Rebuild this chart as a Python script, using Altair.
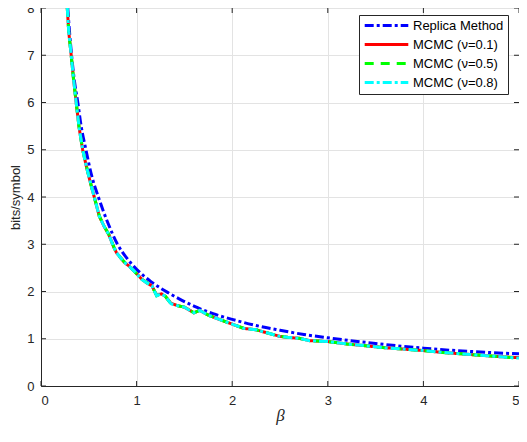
import altair as alt
import pandas as pd

# ---- data ----
series_names = ["Replica Method", "MCMC (ν=0.1)", "MCMC (ν=0.5)", "MCMC (ν=0.8)"]
series_colors = ["#0000ff", "#ff0000", "#00ff00", "#00ffff"]

beta_replica = [0.28, 0.30, 0.32, 0.35, 0.385, 0.42, 0.47, 0.53, 0.60, 0.70, 0.80, 0.90,
                1.00, 1.15, 1.30, 1.45, 1.60, 1.80, 2.00, 2.25, 2.50, 2.75, 3.00, 3.50,
                4.00, 4.50, 5.00]
bits_replica = [8.0, 7.45, 7.0, 6.45, 6.0, 5.5, 5.0, 4.45, 4.0, 3.45, 3.0, 2.7,
                2.47, 2.21, 2.01, 1.84, 1.69, 1.53, 1.41, 1.28, 1.18, 1.09, 1.02, 0.90,
                0.80, 0.73, 0.68]

beta_mcmc = [0.275, 0.29, 0.316, 0.34, 0.368, 0.40, 0.436, 0.48, 0.52, 0.557,
             0.61, 0.66, 0.71, 0.763, 0.79, 0.83, 0.87, 0.92, 0.98, 1.05,
             1.10, 1.16, 1.21, 1.26, 1.30, 1.36, 1.43, 1.50, 1.55, 1.60,
             1.66, 1.75, 1.85, 2.00, 2.12, 2.25, 2.39, 2.50, 2.58, 2.70,
             2.81, 3.00, 3.20, 3.40, 3.60, 3.80, 4.00, 4.20, 4.40, 4.60,
             4.80, 5.00]
bits_nu01 = [8.0, 7.5, 7.0, 6.5, 6.0, 5.45, 5.0, 4.6, 4.28, 4.0,
             3.59, 3.38, 3.2, 2.93, 2.82, 2.72, 2.62, 2.54, 2.42, 2.27,
             2.19, 2.12, 1.92, 1.95, 1.90, 1.75, 1.70, 1.67, 1.61, 1.55,
             1.60, 1.50, 1.42, 1.31, 1.22, 1.19, 1.11, 1.05, 1.03, 1.01,
             0.96, 0.94, 0.89, 0.85, 0.81, 0.78, 0.75, 0.71, 0.68, 0.65,
             0.62, 0.60]
bits_nu05 = [8.0, 7.5, 7.0, 6.5, 6.0, 5.45, 5.0, 4.61, 4.28, 4.0,
             3.60, 3.38, 3.21, 2.94, 2.82, 2.72, 2.63, 2.54, 2.42, 2.26,
             2.20, 2.12, 1.91, 1.95, 1.90, 1.74, 1.70, 1.67, 1.61, 1.55,
             1.60, 1.50, 1.42, 1.31, 1.22, 1.19, 1.11, 1.05, 1.03, 1.01,
             0.96, 0.94, 0.89, 0.85, 0.81, 0.78, 0.75, 0.71, 0.68, 0.65,
             0.62, 0.59]
bits_nu08 = [8.0, 7.5, 7.0, 6.5, 6.0, 5.45, 5.0, 4.6, 4.28, 4.0,
             3.59, 3.38, 3.2, 2.93, 2.82, 2.72, 2.62, 2.54, 2.42, 2.26,
             2.19, 2.12, 1.91, 1.95, 1.90, 1.74, 1.70, 1.67, 1.61, 1.55,
             1.60, 1.50, 1.42, 1.31, 1.22, 1.19, 1.11, 1.05, 1.03, 1.01,
             0.96, 0.94, 0.89, 0.85, 0.81, 0.78, 0.75, 0.71, 0.68, 0.65,
             0.62, 0.59]

x_ticks = [0, 1, 2, 3, 4, 5]
y_ticks = [0, 1, 2, 3, 4, 5, 6, 7, 8]

# ---- build table ----
rows = []
for b, v in zip(beta_replica, bits_replica):
    rows.append({"beta": b, "bits": v, "series": series_names[0]})
for name, vals in zip(series_names[1:], [bits_nu01, bits_nu05, bits_nu08]):
    for b, v in zip(beta_mcmc, vals):
        rows.append({"beta": b, "bits": v, "series": name})
df = pd.DataFrame(rows)

W, H = 478, 378
AX = "#262626"
FONT = "Liberation Sans"

xs = alt.Scale(domain=[0, 5], nice=False)
ys = alt.Scale(domain=[0, 8], nice=False)
color_scale = alt.Scale(domain=series_names, range=series_colors)
dash_scale = alt.Scale(domain=series_names,
                       range=[[9, 3, 3, 3], [1, 0], [9, 7], [9, 3, 3, 3]])

x_enc = alt.X("beta:Q", scale=xs,
              axis=alt.Axis(values=x_ticks, title="β", format="d", grid=True,
                            tickSize=0, labelPadding=8, titleFont="Liberation Serif",
                            titleFontStyle="italic", titleFontSize=17,
                            titleFontWeight="normal", titleY=38, titleBaseline="bottom"))
y_enc = alt.Y("bits:Q", scale=ys,
              axis=alt.Axis(values=y_ticks, title="bits/symbol", format="d", grid=True,
                            tickSize=0, labelPadding=7, titleFontWeight="normal",
                            titleFontSize=13, titleX=-19, titleY=H / 2,
                            titleAngle=-90, titleBaseline="bottom", titleAlign="center"))

legend = alt.Legend(title=None, orient="none", legendX=318, legendY=7,
                    symbolType="stroke", symbolStrokeWidth=3, symbolSize=1900,
                    clipHeight=13, labelFontSize=13, labelFont=FONT,
                    labelColor="#000000", labelLimit=300, strokeColor="#262626",
                    fillColor="#ffffff", padding=4, rowPadding=5, labelOffset=3)

layers = []
for i, name in enumerate(series_names):
    sub = df[df["series"] == name]
    mark = alt.Chart(sub).mark_line(
        strokeWidth=3, interpolate="monotone" if i == 0 else "linear", clip=True)
    layers.append(mark.encode(
        x=x_enc, y=y_enc,
        color=alt.Color("series:N", scale=color_scale, legend=legend),
        strokeDash=alt.StrokeDash("series:N", scale=dash_scale, legend=legend),
    ))

xt = pd.DataFrame({"t": x_ticks})
yt = pd.DataFrame({"t": y_ticks})
tick_layers = [
    alt.Chart(xt).mark_rule(color=AX, strokeWidth=1).encode(
        x=alt.X("t:Q", scale=xs), y=alt.value(H), y2=alt.value(H - 5)),
    alt.Chart(xt).mark_rule(color=AX, strokeWidth=1).encode(
        x=alt.X("t:Q", scale=xs), y=alt.value(0), y2=alt.value(5)),
    alt.Chart(yt).mark_rule(color=AX, strokeWidth=1).encode(
        y=alt.Y("t:Q", scale=ys), x=alt.value(0), x2=alt.value(5)),
    alt.Chart(yt).mark_rule(color=AX, strokeWidth=1).encode(
        y=alt.Y("t:Q", scale=ys), x=alt.value(W), x2=alt.value(W - 5)),
]

chart = alt.layer(*tick_layers, *layers).resolve_scale(
    color="shared", strokeDash="shared"
).properties(
    width=W, height=H,
    autosize=alt.AutoSizeParams(type="none"),
    padding={"left": 33, "top": 0, "right": 0, "bottom": 40},
).configure_view(
    stroke=AX, strokeWidth=1
).configure_axis(
    domainColor=AX, labelColor=AX, titleColor=AX, gridColor="#e3e3e3",
    labelFont=FONT, titleFont=FONT, labelFontSize=13,
)

chart.save("out.html", embed_options={"renderer": "svg", "actions": False})
